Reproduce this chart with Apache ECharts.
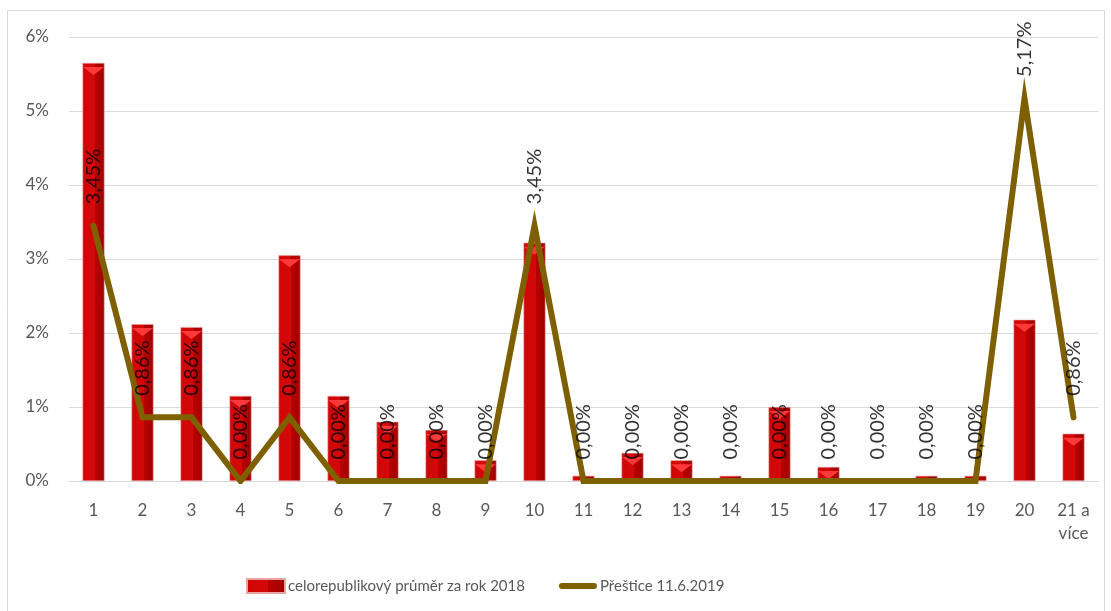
<!DOCTYPE html>
<html>
<head>
<meta charset="utf-8">
<script src="https://cdn.jsdelivr.net/npm/echarts@6/dist/echarts.min.js"></script>
<style>
  html, body { margin: 0; padding: 0; background: #fff; }
  #chart { width: 1111px; height: 611px; }
</style>
</head>
<body>
<div id="chart"></div>
<script>
// categories and both series, in percent
const categories = ['1', '2', '3', '4', '5', '6', '7', '8', '9', '10', '11', '12', '13', '14', '15', '16', '17', '18', '19', '20', '21 a\nvíce']
const celorepublikovy = [5.65, 2.12, 2.08, 1.15, 3.05, 1.15, 0.80, 0.69, 0.28, 3.22, 0.07, 0.38, 0.28, 0.07, 1.00, 0.19, 0, 0.07, 0.07, 2.18, 0.64]
const prestice = [3.45, 0.86, 0.86, 0, 0.86, 0, 0, 0, 0, 3.45, 0, 0, 0, 0, 0, 0, 0, 0, 0, 5.17, 0.86]
const yTicks = [0, 1, 2, 3, 4, 5, 6]

const seriesNames = ['celorepublikový průměr za rok 2018', 'Přeštice 11.6.2019']
const font = 'Lato, "Open Sans", sans-serif'

// thick rounded line for the legend, padded to the 38x14 icon box
const lineIcon = 'path://M0,0 L0.01,0 L0,0.01 Z M38,14 L37.99,14 L38,13.99 Z ' +
  'M3,4 L35,4 A3,3 0 0 1 35,10 L3,10 A3,3 0 0 1 3,4 Z'

const chart = echarts.init(document.getElementById('chart'))

chart.setOption({
  animation: false,
  textStyle: { fontFamily: font },
  graphic: [{
    type: 'rect',
    shape: { x: 7.5, y: 10.5, width: 1097, height: 640 },
    style: { fill: 'none', stroke: '#d9d9d9', lineWidth: 1 },
    silent: true
  }],
  grid: {
    left: 69,
    right: 13,
    top: 37,
    bottom: 130,
    containLabel: false
  },
  legend: {
    left: 246,
    top: 578,
    padding: 0,
    itemWidth: 38,
    itemHeight: 14,
    itemGap: 34,
    textStyle: { color: '#595959', fontSize: 15, fontFamily: font, padding: [0, 0, 0, -2] },
    data: [
      { name: seriesNames[0], icon: 'rect' },
      { name: seriesNames[1], icon: lineIcon, itemStyle: { color: '#7f6000' } }
    ]
  },
  xAxis: {
    type: 'category',
    data: categories,
    axisTick: { show: false },
    axisLine: { lineStyle: { color: '#d9d9d9', width: 1 } },
    axisLabel: {
      color: '#595959',
      fontSize: 17,
      margin: 18,
      lineHeight: 23,
      interval: 0
    }
  },
  yAxis: {
    type: 'value',
    min: yTicks[0],
    max: yTicks[yTicks.length - 1],
    interval: 1,
    axisLine: { show: false },
    axisTick: { show: false },
    splitLine: { lineStyle: { color: '#d9d9d9', width: 1 } },
    axisLabel: {
      color: '#595959',
      fontSize: 17,
      margin: 20,
      formatter: '{value}%'
    }
  },
  series: [
    {
      name: seriesNames[0],
      type: 'bar',
      data: celorepublikovy,
      barWidth: 22,
      barGap: '-100%',
      itemStyle: {
        color: {
          type: 'linear', x: 0, y: 0, x2: 1, y2: 0,
          colorStops: [
            { offset: 0, color: '#d00606' },
            { offset: 0.55, color: '#d40808' },
            { offset: 0.56, color: '#b80202' },
            { offset: 1, color: '#a00000' }
          ]
        },
        borderColor: '#e9a3a3',
        borderWidth: 0.6
      }
    },
    {
      // lighter chevron at the top of the bars
      name: seriesNames[0],
      type: 'pictorialBar',
      data: celorepublikovy.map(v => (v > 0.15 ? v : null)),
      barWidth: 22,
      barGap: '-100%',
      symbol: 'path://M0,0 L22,0 L11,8 Z',
      symbolSize: [21, 8],
      symbolPosition: 'end',
      symbolOffset: [0, '50%'],
      symbolClip: false,
      itemStyle: { color: '#ff3838' },
      z: 3
    },
    {
      name: seriesNames[1],
      type: 'line',
      data: prestice,
      symbol: 'none',
      lineStyle: { color: '#7f6000', width: 6, join: 'miter', cap: 'round' },
      itemStyle: { color: '#7f6000' },
      z: 5
    },
    {
      // invisible points that only carry the rotated labels
      type: 'scatter',
      data: prestice,
      symbolSize: 1,
      itemStyle: { color: 'rgba(0,0,0,0)' },
      z: 6,
      label: {
        show: true,
        position: 'top',
        distance: 21,
        rotate: 90,
        align: 'left',
        verticalAlign: 'middle',
        color: '#000',
        fontSize: 20,
        fontFamily: font,
        formatter: p => p.value.toFixed(2).replace('.', ',') + '%'
      }
    }
  ]
})
</script>
</body>
</html>
